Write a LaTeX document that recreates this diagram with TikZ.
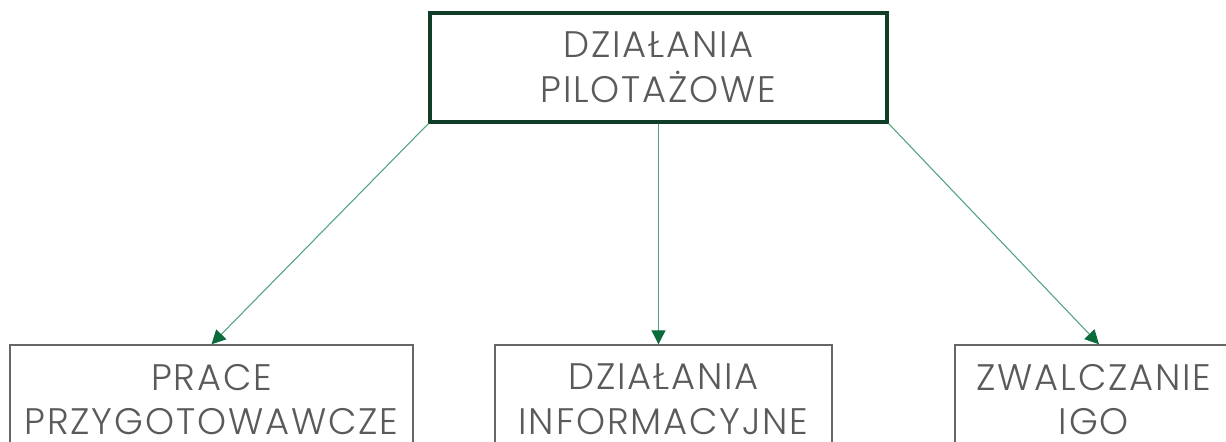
\documentclass[tikz,border=0pt]{standalone}
\usepackage{fontspec}
\setmainfont{Poppins}[UprightFont=* Light, LetterSpace=5]
\usetikzlibrary{positioning,arrows.meta}
\definecolor{topGreen}{HTML}{0F3D27}
\definecolor{lineGreen}{HTML}{4FA37C}
\definecolor{tipGreen}{HTML}{0B6B3C}
\definecolor{boxGray}{HTML}{666666}
\definecolor{txtGray}{HTML}{5A5A5A}

\begin{document}
\begin{tikzpicture}[
  font=\fontsize{21}{25.5}\selectfont,
  base/.style={draw, align=center, inner sep=0pt, text=txtGray,
               minimum height=2.18cm},
  head/.style={base, draw=topGreen, line width=1.8pt, minimum width=9.14cm},
  task/.style={base, draw=boxGray, line width=0.8pt},
  flow/.style={-{Triangle[length=2.8mm, width=2.8mm, color=tipGreen]},
               draw=lineGreen, line width=0.6pt}
]
\useasboundingbox (0,0) rectangle (24.52,-8.84);
\clip (0,0) rectangle (24.52,-8.84);

\node[head] (pilot) at (13.17,-1.35) {DZIAŁANIA\\PILOTAŻOWE};

\node[task, minimum width=8.06cm] (prep) at (4.23,-7.99) {PRACE\\PRZYGOTOWAWCZE};
\node[task, minimum width=6.74cm] (info) at (13.27,-7.99) {DZIAŁANIA\\INFORMACYJNE};
\node[task, minimum width=5.56cm] (igo) at (21.88,-7.99) {ZWALCZANIE\\IGO};

\draw[flow] (pilot.south west) -- (prep.north);
\draw[flow] (pilot.south) -- (pilot.south |- info.north);
\draw[flow] (pilot.south east) -- ([xshift=1mm]igo.north);

\end{tikzpicture}
\end{document}
